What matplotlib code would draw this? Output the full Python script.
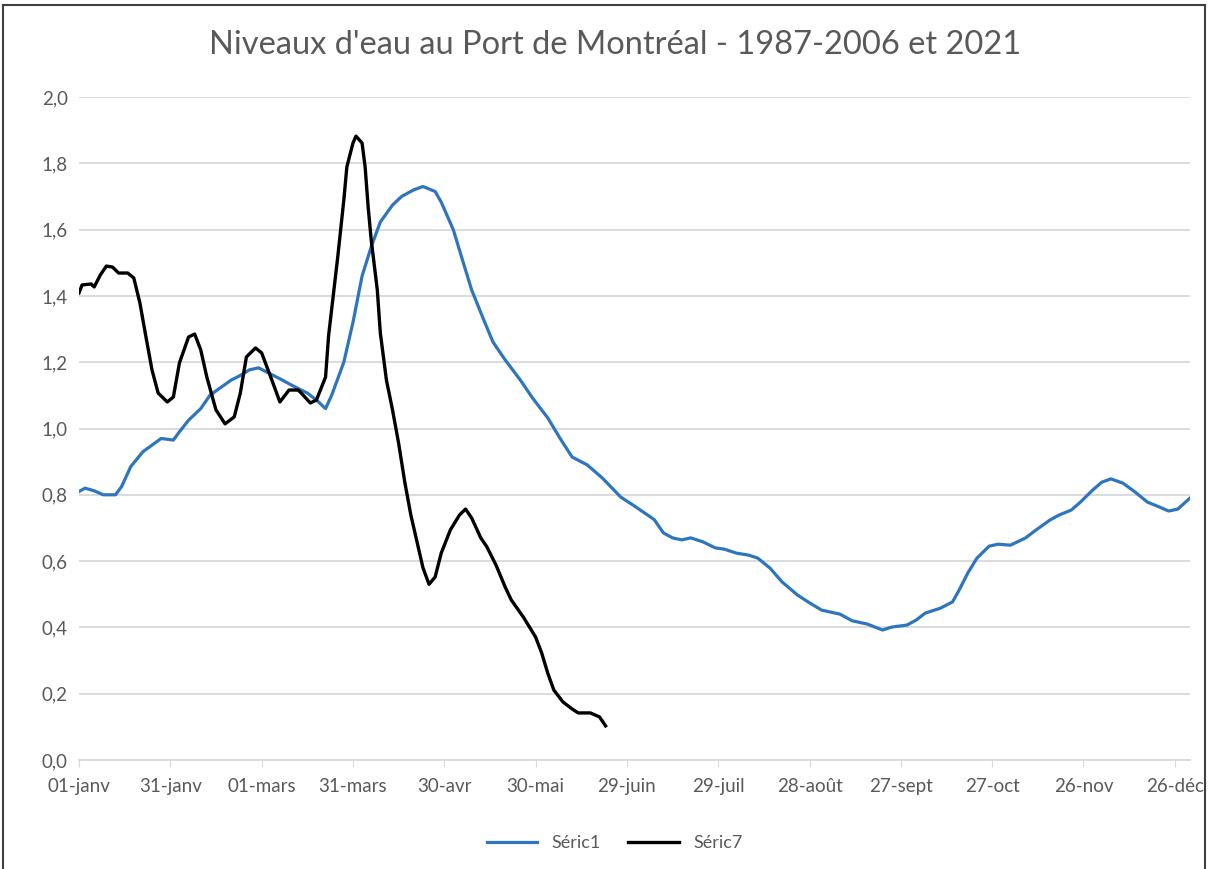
import matplotlib.pyplot as plt
from matplotlib.lines import Line2D

# jours depuis le 1er janvier (année bissextile, 366 jours)
serie1_days = [0, 2, 5, 8, 12, 14, 17, 21, 24, 27, 31, 33, 36, 40, 43, 46, 50, 53, 56, 59,
               63, 66, 70, 75, 78, 81, 83, 87, 90, 93, 96, 99, 103, 106, 110, 113, 117, 119,
               123, 126, 129, 133, 136, 140, 145, 149, 154, 158, 162, 167, 172, 178, 183, 189,
               192, 195, 198, 201, 205, 209, 212, 216, 220, 223, 227, 231, 236, 240, 244, 250,
               254, 259, 264, 267, 272, 275, 278, 283, 287, 289, 292, 295, 299, 302, 306, 311,
               314, 319, 322, 326, 329, 333, 336, 339, 343, 347, 351, 355, 358, 361, 365]
serie1_vals = [0.81, 0.82, 0.812, 0.80, 0.80, 0.825, 0.885, 0.93, 0.95, 0.97, 0.965, 0.99, 1.025,
               1.06, 1.10, 1.12, 1.146, 1.16, 1.177, 1.183, 1.164, 1.15, 1.13, 1.107, 1.086, 1.06,
               1.10, 1.20, 1.32, 1.46, 1.548, 1.623, 1.674, 1.70, 1.72, 1.73, 1.715, 1.683, 1.599,
               1.508, 1.418, 1.327, 1.261, 1.207, 1.146, 1.092, 1.032, 0.971, 0.914, 0.89, 0.85,
               0.793, 0.763, 0.725, 0.685, 0.67, 0.664, 0.67, 0.658, 0.64, 0.636, 0.624, 0.618,
               0.609, 0.579, 0.537, 0.498, 0.474, 0.452, 0.44, 0.42, 0.41, 0.392, 0.401, 0.407,
               0.422, 0.443, 0.458, 0.477, 0.51, 0.564, 0.609, 0.645, 0.651, 0.648, 0.67, 0.691,
               0.724, 0.739, 0.754, 0.778, 0.814, 0.838, 0.848, 0.835, 0.808, 0.778, 0.763, 0.751,
               0.757, 0.79]

serie7_days = [0, 1, 4, 5, 7, 9, 11, 13, 16, 18, 20, 22, 24, 26, 29, 31, 33, 36, 38, 40, 42, 45,
               48, 51, 53, 55, 58, 60, 63, 66, 69, 72, 73, 76, 78, 81, 82, 85, 87, 88, 90, 91, 93,
               94, 95, 96, 98, 99, 101, 103, 105, 107, 109, 111, 113, 115, 117, 119, 122, 125,
               127, 129, 132, 134, 137, 140, 142, 146, 150, 152, 154, 156, 159, 162, 164, 168,
               171, 173]
serie7_vals = [1.409, 1.433, 1.436, 1.427, 1.463, 1.49, 1.487, 1.469, 1.469, 1.454, 1.379, 1.276,
               1.176, 1.107, 1.08, 1.095, 1.198, 1.276, 1.285, 1.237, 1.155, 1.056, 1.014, 1.035,
               1.107, 1.216, 1.243, 1.228, 1.155, 1.08, 1.116, 1.116, 1.107, 1.077, 1.086, 1.155,
               1.28, 1.517, 1.689, 1.789, 1.861, 1.882, 1.861, 1.789, 1.668, 1.569, 1.418, 1.288,
               1.146, 1.056, 0.956, 0.84, 0.74, 0.66, 0.58, 0.53, 0.552, 0.624, 0.694, 0.739,
               0.757, 0.73, 0.67, 0.643, 0.588, 0.522, 0.483, 0.431, 0.371, 0.323, 0.262, 0.211,
               0.175, 0.154, 0.142, 0.142, 0.13, 0.103]

tick_days = [0, 30, 60, 90, 120, 150, 180, 210, 240, 270, 300, 330, 360]
tick_labels = ['01-janv', '31-janv', '01-mars', '31-mars', '30-avr', '30-mai', '29-juin',
               '29-juil', '28-août', '27-sept', '27-oct', '26-nov', '26-déc']
y_ticks = [0.0, 0.2, 0.4, 0.6, 0.8, 1.0, 1.2, 1.4, 1.6, 1.8, 2.0]

plt.rcParams['font.family'] = ['Lato', 'DejaVu Sans']
gray = '#595959'

fig = plt.figure(figsize=(12.1, 8.69), dpi=100)
ax = fig.add_axes([79 / 1210, 109 / 869, 1111 / 1210, 663 / 869])

ax.plot(serie1_days, serie1_vals, color='#2e75c0', lw=2.3, label='Séric1')
ax.plot(serie7_days, serie7_vals, color='black', lw=2.4, label='Séric7')

ax.set_xlim(0, 365)
ax.set_ylim(0, 2.0)
ax.set_xticks(tick_days)
ax.set_xticklabels(tick_labels)
ax.set_yticks(y_ticks)
ax.set_yticklabels([f'{v:.1f}'.replace('.', ',') for v in y_ticks])
ax.grid(axis='y', color='#d9d9d9', lw=1.3)
ax.set_axisbelow(True)
for s in ['top', 'right', 'left']:
    ax.spines[s].set_visible(False)
ax.spines['bottom'].set_color('#d9d9d9')
ax.spines['bottom'].set_linewidth(1.3)
ax.tick_params(axis='x', colors='#d9d9d9', labelcolor=gray, labelsize=13.5, length=5, pad=8)
ax.tick_params(axis='y', length=0, labelcolor=gray, labelsize=13.5, pad=8)

fig.text(0.508, 0.948, "Niveaux d'eau au Port de Montréal - 1987-2006 et 2021",
         ha='center', va='center', fontsize=23.5, color=gray)

fig.legend(loc='center', bbox_to_anchor=(0.508, 0.03), ncol=2, frameon=False,
           fontsize=13, labelcolor=gray, handlelength=2.8, columnspacing=1.5)

# cadre du graphique
fig.add_artist(Line2D([3 / 1210, 3 / 1210], [0, 1 - 5 / 869], color='#404040', lw=1.5))
fig.add_artist(Line2D([3 / 1210, 1205 / 1210], [1 - 5 / 869, 1 - 5 / 869], color='#404040', lw=1.5))
fig.add_artist(Line2D([1205 / 1210, 1205 / 1210], [0, 1 - 5 / 869], color='#404040', lw=1.5))

fig.savefig('out.png', dpi=100)
